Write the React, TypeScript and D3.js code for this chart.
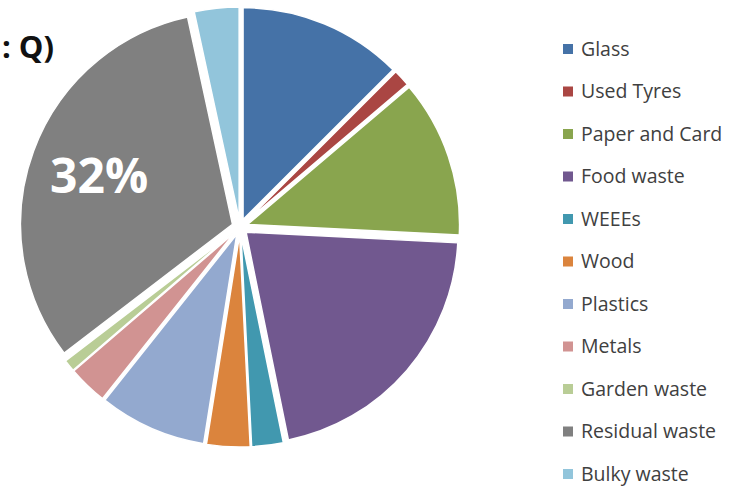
import React from "react";
import * as d3 from "d3";

const categories = [
  "Glass",
  "Used Tyres",
  "Paper and Card",
  "Food waste",
  "WEEEs",
  "Wood",
  "Plastics",
  "Metals",
  "Garden waste",
  "Residual waste",
  "Bulky waste",
];
const values = [12.5, 1.3, 12, 21, 2.4, 3.3, 8.2, 3, 0.9, 32, 3.4];
const colors = [
  "#4572A7",
  "#AA4643",
  "#89A54E",
  "#71588F",
  "#4198AF",
  "#DB843D",
  "#93A9CF",
  "#D19392",
  "#B9CD96",
  "#808080",
  "#92C5DB",
];
const labelledCategory = "Residual waste";
const titleText = ": Q)";

const W = 741;
const H = 488;
const cx = 240;
const cy = 227;
const R = 212;
const explode = 8;

export default function App() {
  const data = categories.map((c, i) => ({ name: c, value: values[i], color: colors[i] }));
  const total = d3.sum(values);
  const pie = d3
    .pie<{ name: string; value: number; color: string }>()
    .sort(null)
    .value((d) => d.value)
    .startAngle(0)
    .endAngle(2 * Math.PI);
  const arcs = pie(data);
  const arcGen = d3.arc<any>().innerRadius(0).outerRadius(R);
  const legendY = d3.scalePoint<string>().domain(categories).range([49, 474]);

  return (
    <svg
      width={W}
      height={H}
      style={{ position: "absolute", left: 0, top: 0, background: "#fff" }}
    >
      <rect x={0} y={0} width={W} height={H} fill="#fff" />
      <text
        x={54}
        y={58}
        textAnchor="end"
        fontFamily="Open Sans, sans-serif"
        fontWeight={700}
        fontSize={31}
        fill="#111"
      >
        {titleText}
      </text>
      <g transform={`translate(${cx},${cy})`}>
        {arcs.map((a, i) => {
          const mid = (a.startAngle + a.endAngle) / 2;
          const dx = Math.sin(mid) * explode;
          const dy = -Math.cos(mid) * explode;
          return (
            <path
              key={i}
              d={arcGen(a) as string}
              transform={`translate(${dx},${dy})`}
              fill={a.data.color}
              stroke="#fff"
              strokeWidth={1.5}
            />
          );
        })}
        {arcs
          .filter((a) => a.data.name === labelledCategory)
          .map((a, i) => {
            const mid = (a.startAngle + a.endAngle) / 2;
            const r = 0.67 * R + explode;
            const x = Math.sin(mid) * r;
            const y = -Math.cos(mid) * r;
            return (
              <text
                key={i}
                x={x}
                y={y}
                dy="0.36em"
                textAnchor="middle"
                fontFamily="Open Sans, sans-serif"
                fontWeight={700}
                fontSize={48}
                fill="#fff"
              >
                {`${Math.round((a.data.value / total) * 100)}%`}
              </text>
            );
          })}
      </g>
      <g>
        {categories.map((c, i) => (
          <g key={c} transform={`translate(0,${legendY(c)})`}>
            <rect x={563} y={-5} width={10} height={10} fill={colors[i]} />
            <text
              x={581}
              y={0}
              dy="0.35em"
              fontFamily="Open Sans, sans-serif"
              fontSize={19.5}
              fill="#404040"
            >
              {c}
            </text>
          </g>
        ))}
      </g>
    </svg>
  );
}
